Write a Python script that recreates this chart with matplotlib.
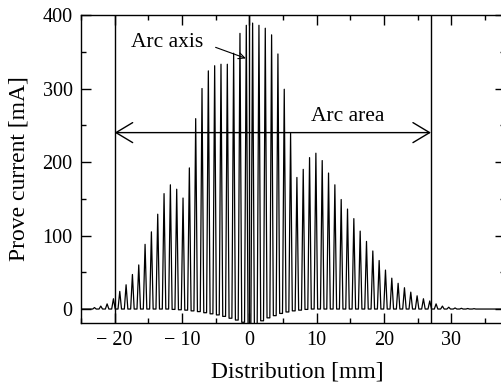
import matplotlib
matplotlib.use("Agg")
import matplotlib.pyplot as plt
from matplotlib.ticker import MultipleLocator, FixedLocator, FixedFormatter

plt.rcParams["font.family"] = ["Liberation Serif", "DejaVu Serif"]

# Peak positions [mm] and peak currents [mA]
peak_x = [-23.00, -22.06, -21.12, -20.18, -19.24, -18.30, -17.36, -16.42, -15.48, -14.54,
          -13.60, -12.66, -11.72, -10.78, -9.84, -8.90, -7.96, -7.02, -6.08, -5.14,
          -4.20, -3.26, -2.32, -1.38, -0.44, 0.50, 1.44, 2.38, 3.32, 4.26,
          5.20, 6.14, 7.08, 8.02, 8.96, 9.90, 10.84, 11.78, 12.72, 13.66,
          14.60, 15.54, 16.48, 17.42, 18.36, 19.30, 20.24, 21.18, 22.12, 23.06,
          24.00, 24.94, 25.88, 26.82, 27.76, 28.70, 29.64, 30.58, 31.52, 32.46, 33.40]
peak_h = [2, 4, 7, 14, 24, 33, 47, 60, 88, 105,
          129, 157, 169, 163, 151, 192, 259, 300, 324, 331,
          333, 333, 348, 375, 386, 389, 386, 382, 373, 347,
          299, 239, 179, 190, 206, 212, 202, 185, 169, 149,
          136, 123, 106, 92, 79, 66, 53, 42, 35, 29,
          23, 18, 14, 11, 7, 4, 2.5, 1.5, 1, 0.7, 0.5]
# current between two neighbouring peaks [mA]
trough = [0, 0, 0, 0, 0, 0, 0, 0, 0, 0,
          0, 0, -0.5, -1, -1.5, -2.5, -3.5, -5, -6.5, -8,
          -10, -12.5, -15, -18, -21, -20, -16, -12, -9, -6,
          -4, -2.5, -1.5, -0.5, 0, 0, 0, 0, 0, 0,
          0, 0, 0, 0, 0, 0, 0, 0, 0, 0,
          0, 0, 0, 0, 0, 0, 0, 0, 0, 0]

x_ticks = [-20, -10, 0, 10, 20, 30]
x_tick_labels = ["\u2212 20", "\u2212 10", "0", "10", "20", "30"]
y_ticks = [0, 100, 200, 300, 400]

arc_left, arc_axis, arc_right = -20, 0, 27
arrow_level = 240

XMIN, XMAX = -25, 38
YMIN, YMAX = -19, 400
half_w = 0.26  # half width of a spike foot

# build the trace: foot - peak - foot for every spike
xs, ys = [XMIN], [0]
for i, (p, h) in enumerate(zip(peak_x, peak_h)):
    left = trough[i - 1] if i > 0 else 0
    right = trough[i] if i < len(trough) else 0
    xs += [p - half_w, p, p + half_w]
    ys += [left, h, right]
xs.append(XMAX)
ys.append(0)

fig = plt.figure(figsize=(5.02, 3.84), dpi=100)
ax = fig.add_axes([81 / 502, 1 - 323 / 384, 424 / 502, 308 / 384])

ax.plot(xs, ys, color="black", linewidth=0.9)

for xv in (arc_left, arc_axis, arc_right):
    ax.axvline(xv, color="black", linewidth=1.0)

ax.annotate("", xy=(arc_left, arrow_level), xytext=(arc_right, arrow_level),
            arrowprops=dict(arrowstyle="<->,head_length=1.2,head_width=0.72",
                            color="black", lw=1.0, shrinkA=0, shrinkB=0))
ax.text(9.2, 262, "Arc area", fontsize=15.5, ha="left", va="center")

ax.annotate("", xy=(-0.5, 341), xytext=(-5.0, 356),
            arrowprops=dict(arrowstyle="->,head_length=0.45,head_width=0.22",
                            color="black", lw=0.8, shrinkA=0, shrinkB=0))
ax.text(-17.5, 362, "Arc axis", fontsize=15.5, ha="left", va="center")

ax.set_xlim(XMIN, XMAX)
ax.set_ylim(YMIN, YMAX)
ax.xaxis.set_major_locator(FixedLocator(x_ticks))
ax.xaxis.set_major_formatter(FixedFormatter(x_tick_labels))
ax.xaxis.set_minor_locator(MultipleLocator(5))
ax.yaxis.set_major_locator(FixedLocator(y_ticks))
ax.yaxis.set_minor_locator(MultipleLocator(50))
ax.tick_params(which="both", direction="in", top=True, right=True, width=1.0,
               labelsize=14.5)
ax.tick_params(which="major", length=7, pad=6)
ax.tick_params(which="minor", length=3.5)
for s in ax.spines.values():
    s.set_linewidth(1.0)

ax.set_xlabel("Distribution [mm]", fontsize=17)
ax.set_ylabel("Prove current [mA]", fontsize=17)
ax.xaxis.set_label_coords(0.51, -0.125)
ax.yaxis.set_label_coords(-0.122, 0.5)

fig.savefig("out.png", dpi=100)
